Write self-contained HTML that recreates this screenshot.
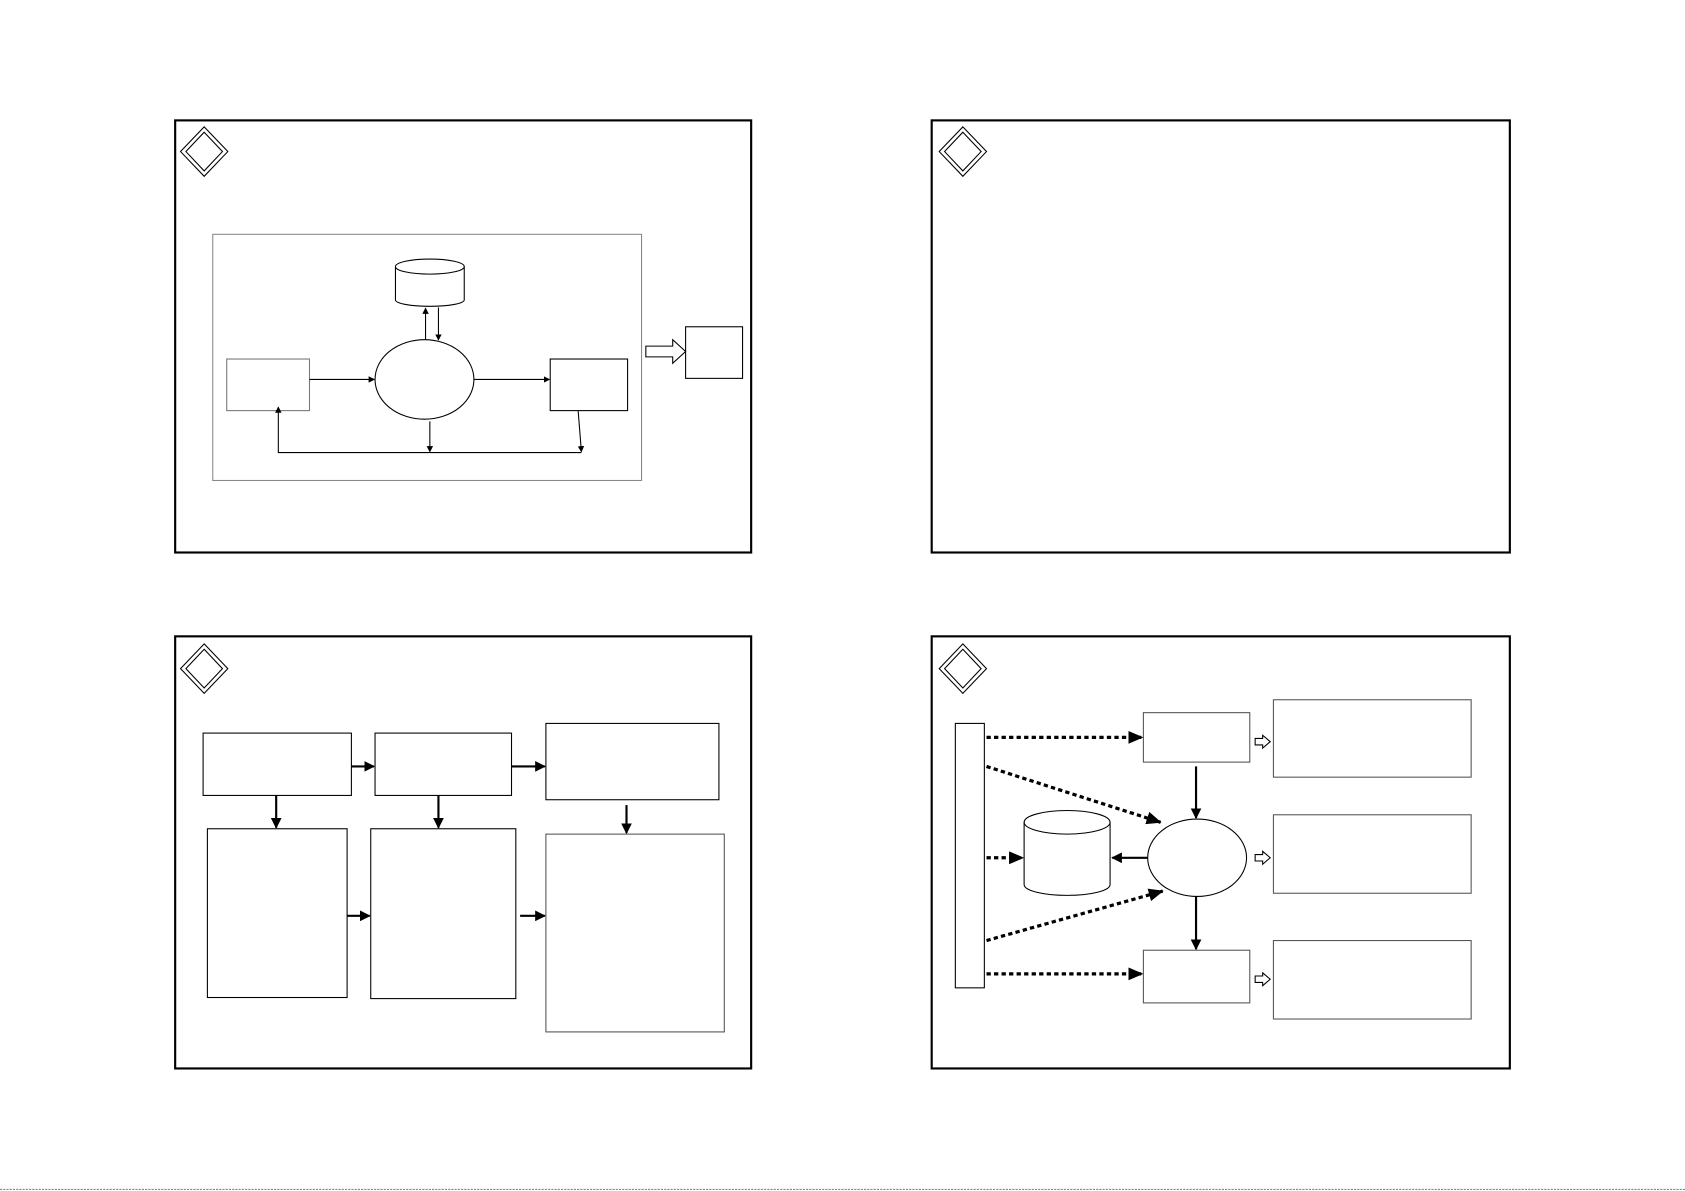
<!DOCTYPE html>
<html><head><meta charset="utf-8"><style>html,body{margin:0;padding:0;background:#fff}svg{display:block}</style></head>
<body>
<svg width="1685" height="1191" viewBox="0 0 1568 1108" preserveAspectRatio="none" xmlns="http://www.w3.org/2000/svg">
<defs>
<marker id="a" markerWidth="6" markerHeight="6" refX="5" refY="3" orient="auto" markerUnits="userSpaceOnUse"><path d="M0,0 L6,3 L0,6 z" fill="#000"/></marker>
<marker id="b" markerWidth="10" markerHeight="10" refX="9" refY="5" orient="auto" markerUnits="userSpaceOnUse"><path d="M0,0 L10,5 L0,10 z" fill="#000"/></marker>
<marker id="c" markerWidth="14" markerHeight="12" refX="13" refY="6" orient="auto" markerUnits="userSpaceOnUse"><path d="M0,0 L14,6 L0,12 z" fill="#000"/></marker>
<g id="dia"><path d="M0,-23 L22,0 L0,23 L-22,0 Z" fill="none" stroke="#000" stroke-width="1"/><path d="M0,-18 L17,0 L0,18 L-17,0 Z" fill="none" stroke="#000" stroke-width="1"/></g>
</defs>
<g fill="none" stroke="#000">
<rect x="163" y="112" width="536" height="402" stroke-width="2"/>
<rect x="867" y="112" width="538" height="402" stroke-width="2"/>
<rect x="163" y="592" width="536" height="402" stroke-width="2"/>
<rect x="867" y="592" width="538" height="402" stroke-width="2"/>
<use href="#dia" x="190" y="141"/><use href="#dia" x="896" y="141"/>
<use href="#dia" x="190" y="622"/><use href="#dia" x="896" y="622"/>
<line x1="0" y1="1106.5" x2="1568" y2="1106.5" stroke="#777" stroke-dasharray="2,1"/>

<rect x="198" y="218" width="399" height="229" stroke="#888"/>
<path d="M368,248 V279 A32,6 0 0 0 432,279 V248" fill="#fff"/>
<ellipse cx="400" cy="248" rx="32" ry="7"/>
<ellipse cx="395" cy="353" rx="46" ry="37"/>
<rect x="211" y="334" width="77" height="48" stroke="#777"/>
<rect x="512" y="334" width="72" height="48"/>
<rect x="638" y="304" width="53" height="48"/>
<path d="M601,322 H626 V316 L638,327 L626,338 V332 H601 Z"/>
<line x1="288" y1="353" x2="348" y2="353" marker-end="url(#a)"/>
<line x1="441" y1="353" x2="511" y2="353" marker-end="url(#a)"/>
<line x1="396" y1="316" x2="396" y2="287" marker-end="url(#a)"/>
<line x1="408" y1="286" x2="408" y2="316" marker-end="url(#a)"/>
<polyline points="541,421 259,421 259,379" marker-end="url(#a)"/>
<line x1="400" y1="392" x2="400" y2="420" marker-end="url(#a)"/>
<line x1="538" y1="382" x2="541" y2="420" marker-end="url(#a)"/>

<rect x="189" y="682" width="138" height="58"/>
<rect x="349" y="682" width="127" height="58"/>
<rect x="508" y="673" width="161" height="71"/>
<rect x="193" y="771" width="130" height="157"/>
<rect x="345" y="771" width="135" height="158"/>
<rect x="508" y="776" width="166" height="184" stroke="#555"/>
<g stroke-width="2">
<line x1="327" y1="713" x2="348" y2="713" marker-end="url(#b)"/>
<line x1="476" y1="713" x2="507" y2="713" marker-end="url(#b)"/>
<line x1="257" y1="740" x2="257" y2="770" marker-end="url(#b)"/>
<line x1="408" y1="740" x2="408" y2="770" marker-end="url(#b)"/>
<line x1="583" y1="749" x2="583" y2="775" marker-end="url(#b)"/>
<line x1="323" y1="852" x2="344" y2="852" marker-end="url(#b)"/>
<line x1="484" y1="852" x2="507" y2="852" marker-end="url(#b)"/>
</g>

<rect x="889" y="673" width="27" height="246"/>
<rect x="1064" y="663" width="99" height="46" stroke="#555"/>
<rect x="1064" y="884" width="99" height="49" stroke="#555"/>
<rect x="1185" y="651" width="184" height="72" stroke="#555"/>
<rect x="1185" y="758" width="184" height="73" stroke="#555"/>
<rect x="1185" y="875" width="184" height="73" stroke="#555"/>
<ellipse cx="1114" cy="798" rx="46" ry="36"/>
<path d="M953,765 V823 A40,10 0 0 0 1033,823 V765"/>
<ellipse cx="993" cy="765" rx="40" ry="11"/>
<g stroke-width="3" stroke-dasharray="4,3">
<line x1="918" y1="686" x2="1063" y2="686" marker-end="url(#c)"/>
<line x1="918" y1="713" x2="1080" y2="765" marker-end="url(#c)"/>
<line x1="918" y1="798" x2="952" y2="798" marker-end="url(#c)"/>
<line x1="918" y1="875" x2="1082" y2="829" marker-end="url(#c)"/>
<line x1="918" y1="906" x2="1063" y2="906" marker-end="url(#c)"/>
</g>
<g stroke-width="2">
<line x1="1113" y1="713" x2="1113" y2="761" marker-end="url(#b)"/>
<line x1="1113" y1="834" x2="1113" y2="883" marker-end="url(#b)"/>
<line x1="1068" y1="798" x2="1035" y2="798" marker-end="url(#b)"/>
</g>
<path d="M1168,687 H1175 V684 L1182,690 L1175,696 V693 H1168 Z"/>
<path d="M1168,795 H1175 V792 L1182,798 L1175,804 V801 H1168 Z"/>
<path d="M1168,908 H1175 V905 L1182,911 L1175,917 V914 H1168 Z"/>
</g>
</svg>
</body></html>
